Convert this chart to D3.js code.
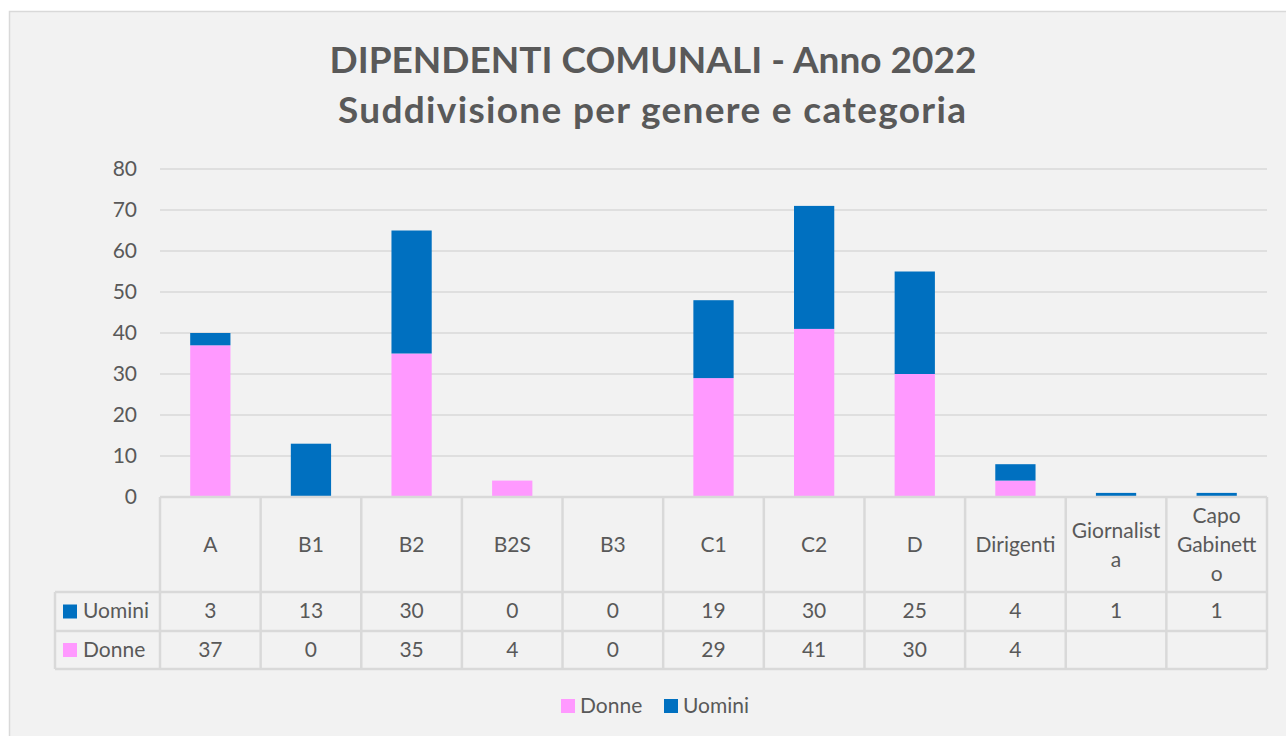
<!DOCTYPE html>
<html>
<head>
<meta charset="utf-8">
<script src="https://cdn.jsdelivr.net/npm/d3@7"></script>
<style>
  body { margin: 0; background: #fff; }
  text { font-family: Lato, 'Open Sans', sans-serif; fill: #595959; }
</style>
</head>
<body>
<div id="chart-area"></div>
<script>
// data
var categories = ['A', 'B1', 'B2', 'B2S', 'B3', 'C1', 'C2', 'D', 'Dirigenti', 'Giornalista', 'Capo Gabinetto'];
var uomini = [3, 13, 30, 0, 0, 19, 30, 25, 4, 1, 1];
var donne = [37, 0, 35, 4, 0, 29, 41, 30, 4, null, null];
var yTicks = [0, 10, 20, 30, 40, 50, 60, 70, 80];
// how the long category names wrap inside their cells
var headerLines = { 'Giornalista': ['Giornalist', 'a'], 'Capo Gabinetto': ['Capo', 'Gabinett', 'o'] };

var colors = { donne: '#ff99ff', uomini: '#0070c0' };
var W = 1286, H = 736;

var svg = d3.select('#chart-area').append('svg')
    .attr('width', W)
    .attr('height', H);

// chart area
svg.append('rect')
    .attr('x', 9.5).attr('y', 11.5)
    .attr('width', W + 10).attr('height', H + 10)
    .attr('fill', '#f2f2f2')
    .attr('stroke', '#d9d9d9')
    .attr('stroke-width', 1.5);

// Title
var title = svg.append('text')
    .attr('text-anchor', 'middle')
    .attr('style', 'font-size: 37px; font-weight: bold');
title.append('tspan').attr('x', 653).attr('y', 73)
    .attr('textLength', 647).attr('lengthAdjust', 'spacing')
    .text('DIPENDENTI COMUNALI - Anno 2022');
title.append('tspan').attr('x', 652).attr('y', 123)
    .attr('textLength', 628).attr('lengthAdjust', 'spacing')
    .text('Suddivisione per genere e categoria');

var x = d3.scaleBand()
    .domain(categories)
    .range([160, 1267]);

var y = d3.scaleLinear()
    .domain([0, 80])
    .range([497, 169]);

// gridlines
svg.append('g').selectAll('line').data(yTicks).enter().append('line')
    .attr('x1', 160).attr('x2', 1267)
    .attr('y1', d => y(d)).attr('y2', d => y(d))
    .attr('stroke', '#d9d9d9')
    .attr('stroke-width', 1.5);

// Y axis labels
var yAxisGroup = svg.append('g')
    .attr('transform', 'translate(160,0)')
    .call(d3.axisLeft(y).tickValues(yTicks).tickSize(0).tickPadding(23));
yAxisGroup.select('.domain').remove();
yAxisGroup.selectAll('text')
    .attr('style', 'font-size: 21px; font-family: Lato, sans-serif')
    .attr('fill', '#595959');

// stacked bars
var rows = categories.map((c, i) => ({ cat: c, donne: donne[i] || 0, uomini: uomini[i] || 0 }));
var series = d3.stack().keys(['donne', 'uomini'])(rows);
var barW = x.bandwidth() * 0.4;

svg.append('g').selectAll('g').data(series).enter().append('g')
    .attr('fill', d => colors[d.key])
    .selectAll('rect').data(d => d).enter().append('rect')
    .attr('x', d => x(d.data.cat) + (x.bandwidth() - barW) / 2)
    .attr('y', d => y(d[1]))
    .attr('width', barW)
    .attr('height', d => y(d[0]) - y(d[1]));

// data table
var headTop = 497, headBot = 592, row1Bot = 631, row2Bot = 669, legLeft = 55;
var table = svg.append('g')
    .attr('stroke', '#d9d9d9')
    .attr('stroke-width', 2.5)
    .attr('fill', 'none');

table.append('line').attr('x1', 160).attr('x2', 1267).attr('y1', headTop).attr('y2', headTop);
[headBot, row1Bot, row2Bot].forEach(yy => {
    table.append('line').attr('x1', legLeft).attr('x2', 1267).attr('y1', yy).attr('y2', yy);
});
table.append('line').attr('x1', legLeft).attr('x2', legLeft).attr('y1', headBot).attr('y2', row2Bot);
categories.concat(['end']).forEach((c, i) => {
    var xx = i < categories.length ? x(c) : x.range()[1];
    table.append('line').attr('x1', xx).attr('x2', xx).attr('y1', headTop).attr('y2', row2Bot);
});

// header labels
var lineH = 29;
categories.forEach(c => {
    var lines = headerLines[c] || [c];
    var cy = (headTop + headBot) / 2 - (lines.length - 1) * lineH / 2;
    var t = svg.append('text')
        .attr('text-anchor', 'middle')
        .attr('style', 'font-size: 21px');
    lines.forEach((l, k) => {
        t.append('tspan')
            .attr('x', x(c) + x.bandwidth() / 2)
            .attr('y', cy + k * lineH)
            .attr('dy', '0.36em')
            .text(l);
    });
});

// value rows
var tableRows = [
    { name: 'Uomini', key: 'uomini', values: uomini, top: headBot, bot: row1Bot },
    { name: 'Donne', key: 'donne', values: donne, top: row1Bot, bot: row2Bot }
];
tableRows.forEach(r => {
    var cy = (r.top + r.bot) / 2;
    svg.append('rect')
        .attr('x', 63).attr('y', cy - 7)
        .attr('width', 14).attr('height', 14)
        .attr('fill', colors[r.key]);
    svg.append('text')
        .attr('x', 83).attr('y', cy - 1).attr('dy', '0.36em')
        .attr('style', 'font-size: 21px')
        .text(r.name);
    r.values.forEach((v, i) => {
        if (v === null) return;
        svg.append('text')
            .attr('x', x(categories[i]) + x.bandwidth() / 2)
            .attr('y', cy - 1).attr('dy', '0.36em')
            .attr('text-anchor', 'middle')
            .attr('style', 'font-size: 21px')
            .text(v);
    });
});

// legend
var legend = [
    { name: 'Donne', key: 'donne', x: 561 },
    { name: 'Uomini', key: 'uomini', x: 664 }
];
legend.forEach(l => {
    svg.append('rect')
        .attr('x', l.x).attr('y', 699)
        .attr('width', 14).attr('height', 14)
        .attr('fill', colors[l.key]);
    svg.append('text')
        .attr('x', l.x + 19).attr('y', 705).attr('dy', '0.36em')
        .attr('style', 'font-size: 21px')
        .text(l.name);
});
</script>
</body>
</html>
